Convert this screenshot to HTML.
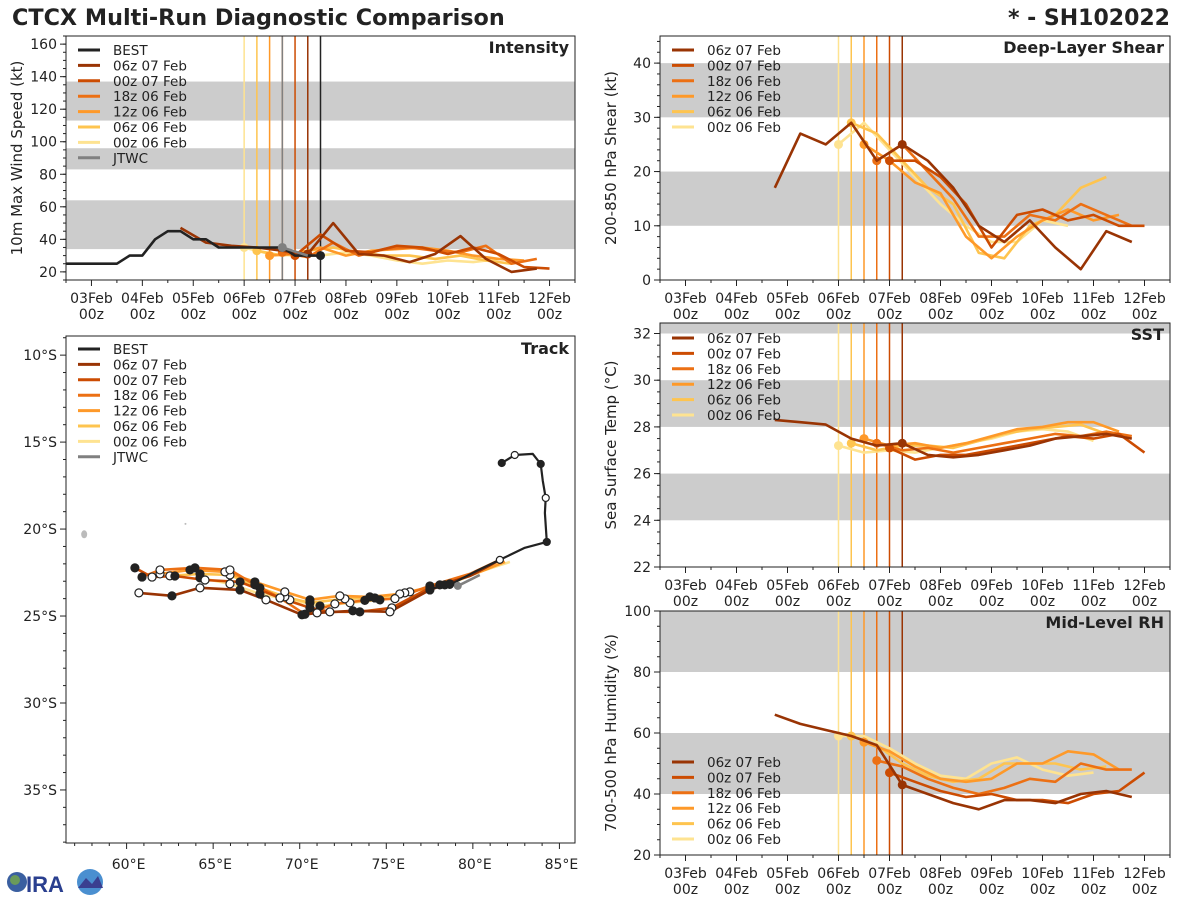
<!DOCTYPE html>
<html><head><meta charset="utf-8"><style>
html,body{margin:0;padding:0;background:#fff;}
svg{display:block;font-family:"DejaVu Sans","Liberation Sans",sans-serif;}
</style></head><body>
<svg id="chart" width="1200" height="900" viewBox="0 0 1200 900" xmlns="http://www.w3.org/2000/svg">
<text x="12" y="25" font-size="22.3" font-weight="bold" fill="#222">CTCX Multi-Run Diagnostic Comparison</text>
<text x="1170" y="25" font-size="22" font-weight="bold" fill="#222" text-anchor="end">* - SH102022</text>
<g>
<circle cx="17" cy="882" r="10" fill="#3a5fa0"/><circle cx="15" cy="880" r="5" fill="#6a9a5a"/>
<text x="26" y="892" font-size="22" font-weight="bold" fill="#2a3f8f" font-family="Liberation Sans,sans-serif">IRA</text>
<circle cx="90" cy="882" r="13" fill="#4a8fd0"/><path d="M78 888 L86 878 L92 884 L98 876 L103 888 Z" fill="#3a3f90"/>
</g>
</svg>
<script>
// ---- data ----
const runNames = ["06z 07 Feb","00z 07 Feb","18z 06 Feb","12z 06 Feb","06z 06 Feb","00z 06 Feb"];
const runColors = ["#993404","#cc4c02","#ec7014","#fe9929","#fec44f","#fee391"];
const runInit = [102,96,90,84,78,72]; // hours since 03Feb 00z
const runStart = [42,96,90,84,78,72];
const dayLabels = ["03Feb","04Feb","05Feb","06Feb","07Feb","08Feb","09Feb","10Feb","11Feb","12Feb"];
// intensity (kt), 12h steps from runStart
const int0 = [47,38,36,35,33,31,50,31,30,26,31,42,28,20,22];
const int1 = [30,43,33,32,36,35,31,35,31,23,22];
const int2 = [32,29,38,30,34,35,33,32,36,25,28];
const int3 = [30,31,35,30,33,34,35,33,30,28,27];
const int4 = [33,30,33,35,32,30,30,28,30,27,25];
const int5 = [35,31,30,30,32,30,27,25,27,26,28];
const bestStart = -12;
const bestInt = [25,25,25,25,25,30,30,40,45,45,40,40,35,35,35,35,35,35,30,30,30]; // 6h steps
const jtwcT = [90,102];
const jtwcInt = [35,30];
// shear (kt)
const shr0 = [17,27,25,29,22,25,22,17,10,7,11,6,2,9,7];
const shr1 = [22,22,19,14,6,12,13,11,12,10,10];
const shr2 = [22,25,20,15,8,8,12,11,14,12,10];
const shr3 = [25,22,18,16,8,4,8,11,13,11,12];
const shr4 = [29,27,22,17,14,5,4,10,12,17,19];
const shr5 = [25,29,24,19,14,10,7,7,11,10];
// SST (C)
const sst0 = [28.3,28.2,28.1,27.5,27.2,27.3,26.8,26.7,26.8,27.0,27.2,27.5,27.6,27.7,27.5];
const sst1 = [27.1,26.6,26.8,26.8,27.0,27.2,27.4,27.6,27.5,27.7,26.9];
const sst2 = [27.3,27.0,27.1,26.9,27.1,27.3,27.5,27.7,27.6,27.8,27.6];
const sst3 = [27.5,27.2,27.3,27.1,27.3,27.6,27.9,28.0,28.2,28.2,27.8];
const sst4 = [27.3,27.0,27.2,27.2,27.1,27.4,27.7,27.9,28.0,28.1,27.7];
const sst5 = [27.2,26.9,27.0,26.9,27.1,27.3,27.5,27.8,27.9,27.8,27.4];
// RH (%)
const rh0 = [66,63,61,59,56,43,40,37,35,38,38,37,40,41,39];
const rh1 = [47,44,41,39,40,38,38,37,40,41,47];
const rh2 = [51,49,45,42,40,42,45,44,50,48,48];
const rh3 = [57,54,49,45,44,45,50,50,54,53,48];
const rh4 = [59,56,50,46,44,45,50,50,50,48,49];
const rh5 = [59,59,55,50,46,45,50,52,48,46,47];
// tracks (lon E, lat S)
const trkLon0 = [81.56,79.94,77.52,75.21,73.07,71.0,70.13,68.05,66.55,64.24,62.62,60.71];
const trkLat0 = [21.77,22.64,23.5,24.76,24.7,24.82,24.93,24.07,23.5,23.38,23.84,23.67];
const trkLon1 = [81.56,79.83,77.52,75.32,73.47,71.74,70.59,68.86,66.55,64.53,62.79,61.47,60.48];
const trkLat1 = [21.77,22.7,23.38,24.53,24.76,24.76,24.53,23.96,23.04,22.93,22.7,22.76,22.23];
const trkLon2 = [81.56,79.83,77.52,75.5,73.76,72.03,70.3,68.86,67.41,65.97,63.95,61.93,60.89];
const trkLat2 = [21.77,22.58,23.27,24.0,24.1,24.3,24.9,23.96,23.2,22.35,22.23,22.35,22.76];
const trkLon3 = [81.85,80.11,78.09,75.78,74.05,72.32,70.59,69.14,67.41,65.68,63.66,61.93];
const trkLat3 = [21.89,22.58,23.21,23.73,23.9,23.84,24.07,23.61,23.04,22.46,22.35,22.58];
const trkLon4 = [81.85,80.11,78.38,76.07,74.34,72.61,70.59,69.14,67.7,65.97,64.24,62.5];
const trkLat4 = [21.89,22.52,23.21,23.67,23.96,24.01,24.24,23.9,23.38,22.64,22.58,22.69];
const trkLon5 = [82.14,80.4,78.67,76.36,74.63,72.9,71.17,69.43,67.7,65.97,64.24];
const trkLat5 = [21.89,22.46,23.15,23.61,24.07,24.24,24.42,24.07,23.73,23.15,22.81];
const bestLon = [81.67,82.42,83.46,83.92,84.04,84.21,84.16,84.27,83.0,81.56,80.11,78.67,77.52];
const bestLat = [16.2,15.74,15.68,16.26,17.23,18.21,19.07,20.74,21.08,21.77,22.46,23.21,23.44];
const jtwcLon = [80.4,79.13];
const jtwcLat = [22.64,23.27];

const NS = "http://www.w3.org/2000/svg";
const svg = document.getElementById("chart");
function mk(tag, attrs, parent){
  const e = document.createElementNS(NS, tag);
  for (const k in attrs) e.setAttribute(k, attrs[k]);
  (parent||svg).appendChild(e); return e;
}
function txt(s, attrs, parent){ const e = mk("text", attrs, parent); e.textContent = s; return e; }

function timePanel(name, x0, y0, w, h, ymin, ymax, bands, yticks, yminor, ylabel, title, legendY, withBest){
  const g = mk("g", {});
  
  
  const sx = t => x0 + (t + 12) * w / 240;
  const sy = v => y0 + h - (v - ymin) * h / (ymax - ymin);
  bands.forEach(b => {
    const r = mk("rect", {x:x0, y:sy(Math.min(b[1],ymax)), width:w, height:sy(b[0])-sy(Math.min(b[1],ymax)), fill:"#cccccc"}, g);
    
    
  });
  for (let i=5;i>=0;i--){
    const l = mk("line", {x1:sx(runInit[i]), x2:sx(runInit[i]), y1:y0, y2:y0+h, stroke:runColors[i], "stroke-width":1.5}, g);
    
    
  }
  if (withBest){
    mk("line", {x1:sx(90), x2:sx(90), y1:y0, y2:y0+h, stroke:"#808080", "stroke-width":1.5}, g);
    mk("line", {x1:sx(108), x2:sx(108), y1:y0, y2:y0+h, stroke:"#222", "stroke-width":1.5}, g);
  }
  return {g, sx, sy, x0, y0, w, h, ymin, ymax, yticks, yminor, ylabel, title, legendY, withBest};
}
function finishTimePanel(p){
  const {g,sx,sy,x0,y0,w,h} = p;
  mk("rect", {x:x0, y:y0, width:w, height:h, fill:"none", stroke:"#222", "stroke-width":1}, g);
  p.yticks.forEach(v => {
    mk("line", {x1:x0-6, x2:x0, y1:sy(v), y2:sy(v), stroke:"#222"}, g);
    const t = txt(String(v), {x:x0-9, y:sy(v)+5, "font-size":14, "text-anchor":"end", fill:"#222"}, g);
    
    
  });
  for (let v=p.ymin; v<=p.ymax+1e-6; v+=p.yminor) mk("line", {x1:x0-3, x2:x0, y1:sy(v), y2:sy(v), stroke:"#222"}, g);
  for (let t=-12; t<=228; t+=12){
    mk("line", {x1:sx(t), x2:sx(t), y1:y0+h, y2:y0+h+(t%24===0?6:3), stroke:"#222"}, g);
  }
  dayLabels.forEach((d,i) => {
    const a = txt(d, {x:sx(i*24), y:y0+h+23, "font-size":14, "text-anchor":"middle", fill:"#222"}, g);
    
    
    txt("00z", {x:sx(i*24), y:y0+h+39, "font-size":14, "text-anchor":"middle", fill:"#222"}, g);
  });
  const yl = txt(p.ylabel, {x:0, y:0, "font-size":15, "text-anchor":"middle", fill:"#222", transform:`translate(${x0-44},${y0+h/2}) rotate(-90)`}, g);
  
  
  const tt = txt(p.title, {x:x0+w-6, y:y0+17, "font-size":16, "font-weight":"bold", "text-anchor":"end", fill:"#222"}, g);
  
  
}
function legend(g, x, y, withBest){
  const names = withBest ? ["BEST"].concat(runNames, ["JTWC"]) : runNames;
  const cols = withBest ? ["#222"].concat(runColors, ["#808080"]) : runColors;
  names.forEach((n,i) => {
    const yy = y + i*15.4;
    const lg = mk("g", {}, g);
    
    
    mk("line", {x1:x, x2:x+22, y1:yy, y2:yy, stroke:cols[i], "stroke-width":3}, lg);
    txt(n, {x:x+35, y:yy+5, "font-size":13.5, fill:"#222"}, lg);
  });
}
function series(p, start, vals, color, init, step){
  step = step || 12;
  const pts = vals.map((v,i) => p.sx(start+i*step).toFixed(1)+","+p.sy(v).toFixed(1)).join(" ");
  const pl = mk("polyline", {points:pts, fill:"none", stroke:color, "stroke-width":2.6, "stroke-linejoin":"round"}, p.g);
  
  
  if (init !== undefined){
    const k = (init - start)/step;
    let v;
    if (Number.isInteger(k)) v = vals[k];
    else { const a=Math.floor(k); v = vals[a] + (vals[a+1]-vals[a])*(k-a); }
    if (v !== undefined){
      const c = mk("circle", {cx:p.sx(init), cy:p.sy(v), r:4.5, fill:color}, p.g);
      
      
    }
  }
}
function drawRuns(p, arrs){
  for (let i=5;i>=0;i--) series(p, runStart[i], arrs[i], runColors[i], runInit[i]);
}

const pI = timePanel("intensity", 66, 36, 509, 244, 15, 165, [[34,64],[83,96],[113,137]], [20,40,60,80,100,120,140,160], 5, "10m Max Wind Speed (kt)", "Intensity", 50, true);
drawRuns(pI, [int0,int1,int2,int3,int4,int5]);
series(pI, bestStart, bestInt, "#222", 108, 6);
(function(){
  const pts = jtwcT.map((t,i)=>pI.sx(t)+","+pI.sy(jtwcInt[i])).join(" ");
  const j = mk("polyline", {points:pts, fill:"none", stroke:"#808080", "stroke-width":2.6}, pI.g);
  
  
  mk("circle", {cx:pI.sx(jtwcT[0]), cy:pI.sy(jtwcInt[0]), r:4.5, fill:"#808080"}, pI.g);
})();
legend(pI.g, 78, 50, true);
finishTimePanel(pI);

const pS = timePanel("shear", 660, 36, 510, 244, 0, 45, [[10,20],[30,40]], [0,10,20,30,40], 2, "200-850 hPa Shear (kt)", "Deep-Layer Shear", 50, false);
drawRuns(pS, [shr0,shr1,shr2,shr3,shr4,shr5]);
legend(pS.g, 672, 50, false);
finishTimePanel(pS);

const pT = timePanel("sst", 660, 323, 510, 244, 22, 32.45, [[24,26],[28,30],[32,33]], [22,24,26,28,30,32], 0.5, "Sea Surface Temp (°C)", "SST", 338, false);
drawRuns(pT, [sst0,sst1,sst2,sst3,sst4,sst5]);
legend(pT.g, 672, 338, false);
finishTimePanel(pT);

const pR = timePanel("rh", 660, 611, 510, 244, 20, 100, [[40,60],[80,100]], [20,40,60,80,100], 5, "700-500 hPa Humidity (%)", "Mid-Level RH", 762, false);
drawRuns(pR, [rh0,rh1,rh2,rh3,rh4,rh5]);
legend(pR.g, 672, 762, false);
finishTimePanel(pR);

(function(){
  const x0=66,y0=336,w=509,h=507, lonMin=56.5, lonMax=85.9, latMin=8.9, latMax=38.05;
  const g = mk("g", {});
  
  
  const sx = lo => x0 + (lo-lonMin)*w/(lonMax-lonMin);
  const sy = la => y0 + (la-latMin)*h/(latMax-latMin);
  mk("ellipse", {cx:sx(57.55), cy:sy(20.3), rx:3, ry:4, fill:"#bbb"}, g);
  mk("circle", {cx:sx(63.4), cy:sy(19.7), r:1, fill:"#bbb"}, g);
  const lons=[trkLon0,trkLon1,trkLon2,trkLon3,trkLon4,trkLon5], lats=[trkLat0,trkLat1,trkLat2,trkLat3,trkLat4,trkLat5];
  for (let i=5;i>=0;i--){
    const pts = lons[i].map((lo,k)=>sx(lo).toFixed(1)+","+sy(lats[i][k]).toFixed(1)).join(" ");
    const pl = mk("polyline", {points:pts, fill:"none", stroke:runColors[i], "stroke-width":2.6, "stroke-linejoin":"round"}, g);
    
    
  }
  const bp = bestLon.map((lo,k)=>sx(lo).toFixed(1)+","+sy(bestLat[k]).toFixed(1)).join(" ");
  const bl = mk("polyline", {points:bp, fill:"none", stroke:"#222", "stroke-width":2.2, "stroke-linejoin":"round"}, g);
  
  
  const jp = jtwcLon.map((lo,k)=>sx(lo)+","+sy(jtwcLat[k])).join(" ");
  mk("polyline", {points:jp, fill:"none", stroke:"#808080", "stroke-width":2.6}, g);
  mk("circle", {cx:sx(jtwcLon[1]), cy:sy(jtwcLat[1]), r:4, fill:"#808080"}, g);
  for (let i=5;i>=0;i--){
    lons[i].forEach((lo,k)=>{
      if (k<2) return;
      const c = mk("circle", {cx:sx(lo), cy:sy(lats[i][k]), r:4, fill:(k%2? "#fff":"#222"), stroke:"#222", "stroke-width":1.2}, g);
      
      
    });
  }
  bestLon.forEach((lo,k)=>{
    if (k===0 || k%2) {
      mk("circle", {cx:sx(lo), cy:sy(bestLat[k]), r:3.5, fill:(k%4===1? "#fff":"#222"), stroke:"#222", "stroke-width":1.2}, g);
    }
  });
  mk("rect", {x:x0, y:y0, width:w, height:h, fill:"none", stroke:"#222"}, g);
  for (let la=9; la<=38; la++) mk("line", {x1:x0-(la%5?3:6), x2:x0, y1:sy(la), y2:sy(la), stroke:"#222"}, g);
  for (let la=10; la<=35; la+=5){
    const t = txt(la+"°S", {x:x0-9, y:sy(la)+5, "font-size":14, "text-anchor":"end", fill:"#222"}, g);
    
    
  }
  for (let lo=57; lo<=85; lo++) mk("line", {x1:sx(lo), x2:sx(lo), y1:y0+h, y2:y0+h+(lo%5?3:6), stroke:"#222"}, g);
  for (let lo=60; lo<=85; lo+=5){
    const t = txt(lo+"°E", {x:sx(lo)+2, y:y0+h+26, "font-size":14, "text-anchor":"middle", fill:"#222"}, g);
    
    
  }
  const tt = txt("Track", {x:x0+w-6, y:y0+18, "font-size":16, "font-weight":"bold", "text-anchor":"end", fill:"#222"}, g);
  
  
  legend(g, 78, 349, true);
})();
</script>
</body></html>
